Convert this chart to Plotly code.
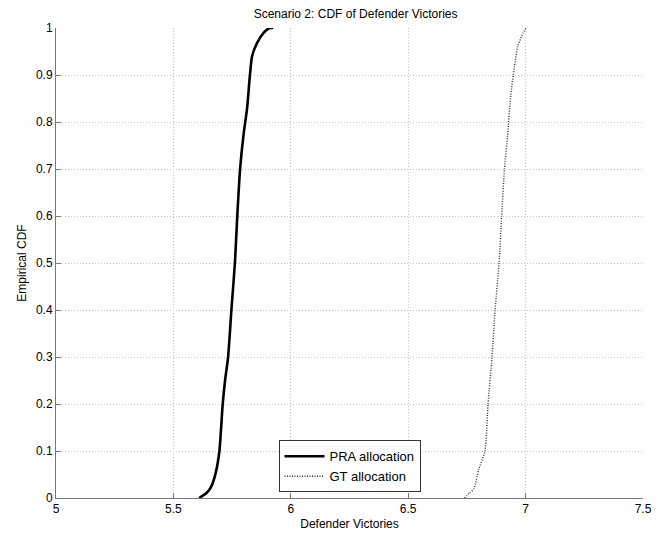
import plotly.graph_objects as go

pra_x = [5.61, 5.625, 5.64, 5.66, 5.68, 5.696, 5.71, 5.72, 5.733, 5.747, 5.762, 5.772, 5.784,
         5.798, 5.814, 5.826, 5.835, 5.856, 5.885, 5.91, 5.925]
pra_y = [0, 0.005, 0.01, 0.023, 0.053, 0.1, 0.2, 0.25, 0.3, 0.4, 0.5, 0.6, 0.7,
         0.77, 0.83, 0.9, 0.94, 0.968, 0.99, 1.0, 1.0]

gt_x = [6.74, 6.76, 6.78, 6.80, 6.827, 6.84, 6.857, 6.87, 6.887, 6.898, 6.91, 6.923,
        6.937, 6.952, 6.966, 6.99, 7.003]
gt_y = [0, 0.01, 0.02, 0.06, 0.1, 0.2, 0.3, 0.4, 0.5, 0.6, 0.7, 0.77,
        0.857, 0.916, 0.96, 0.99, 1.0]

x_ticks = [5, 5.5, 6, 6.5, 7, 7.5]
y_ticks = [0, 0.1, 0.2, 0.3, 0.4, 0.5, 0.6, 0.7, 0.8, 0.9, 1]

font = "Liberation Sans, Arial, sans-serif"

fig = go.Figure()
fig.add_trace(go.Scatter(x=pra_x, y=pra_y, mode="lines", name="PRA allocation",
                         line=dict(color="black", width=2.6, shape="spline", smoothing=0.6)))
fig.add_trace(go.Scatter(x=gt_x, y=gt_y, mode="lines", name="GT allocation",
                         line=dict(color="#333333", width=1.4, dash="1px,1.5px",
                                   shape="spline", smoothing=0.6)))

axis_common = dict(
    showline=True, linecolor="#777", linewidth=1,
    ticks="inside", ticklen=5, tickcolor="#777",
    showgrid=True, gridcolor="#c4c4c4", griddash="1px,2px", gridwidth=1,
    zeroline=False, tickfont=dict(family=font, size=12, color="black"),
)

fig.update_layout(
    width=661, height=540,
    margin=dict(l=56, r=9, t=28, b=42),
    paper_bgcolor="white", plot_bgcolor="white",
    title=dict(text="Scenario 2: CDF of Defender Victories", x=0.538, xanchor="center",
               y=0.974, yanchor="middle", font=dict(family=font, size=12, color="black")),
    xaxis=dict(range=[5, 7.5], tickvals=x_ticks, ticktext=[str(v) for v in x_ticks],
               title=dict(text="Defender Victories", standoff=4,
                          font=dict(family=font, size=12, color="black")),
               **axis_common),
    yaxis=dict(range=[0, 1], tickvals=y_ticks, ticktext=[f"{v:g}" for v in y_ticks],
               title=dict(text="Empirical CDF", standoff=6,
                          font=dict(family=font, size=12, color="black")),
               **axis_common),
    legend=dict(x=0.5, xanchor="center", y=0.012, yanchor="bottom",
                bgcolor="white", bordercolor="#333", borderwidth=1,
                font=dict(family=font, size=13, color="black"),
                tracegroupgap=0, itemwidth=40),
    showlegend=True,
)

fig.write_html("out.html")
